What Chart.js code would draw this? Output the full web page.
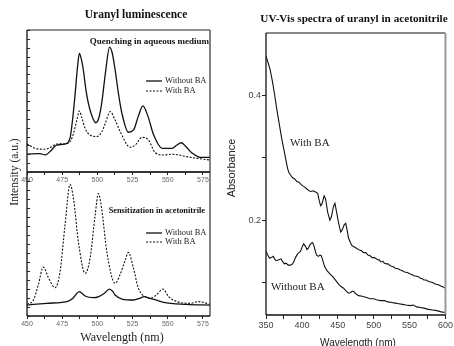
<!DOCTYPE html>
<html><head><meta charset="utf-8">
<script src="https://cdn.jsdelivr.net/npm/chart.js@4.4.1/dist/chart.umd.min.js"></script>
<style>
html,body{margin:0;padding:0;background:#fff;overflow:hidden;width:454px;height:346px;}
canvas{position:absolute;}
#cA{left:0;top:0;}
#cB{left:0;top:165px;}
#cC{left:217px;top:0;}
</style></head><body>
<canvas id="cA" width="227" height="215" style="width:227px;height:215px"></canvas>
<canvas id="cB" width="227" height="190" style="width:227px;height:190px"></canvas>
<canvas id="cC" width="237" height="356" style="width:237px;height:356px"></canvas>
<script>
// ---------- DATA ----------
const seriesNames = ['Without BA', 'With BA'];
// Luminescence, quenching in aqueous medium
const quenchNoBA_nm = [450,459,463,467,471,477,480.6,482.5,484,486,487.2,488.5,490,492,494.8,499,501,503,506,508.6,510.5,512.6,515,517.4,522,525.7,529,532.3,536,540,546,553,556.5,559.6,562.5,567,573,580];
const quenchNoBA_I  = [12.5,13,12,15,19,19.7,24,38,53,75,83.6,80,72,57,43.7,34.7,38,48,72,88,84,72,55,41.5,28,29.6,39,46.5,39,26,16.7,16.7,19,20.6,18.3,13.6,10.3,10.3];
const quenchBA_nm = [450,455.7,462.8,467.6,471.1,478.3,481,483,485.5,487.2,489,491.3,494.8,499.6,503,505.5,509.1,512.6,516.2,523.3,526.9,531.6,536.3,541.1,547,553,557.7,563.7,570.8,579.7];
const quenchBA_I  = [19.7,16.7,16,17.8,19.7,20,22,27,37,43,38,30.7,26,25,28,34,42.5,36.6,28.4,17.4,19,24.4,22.5,13.6,12,12.5,12,10.8,9.6,8.5];
// Luminescence, sensitization in acetonitrile
const sensNoBA_nm = [450,464,479.4,483,485.5,487.2,489,491.3,497,501,505,508.6,511,512.6,518,525.7,530,533.3,537,542,547,563,580];
const sensNoBA_I  = [7.6,8.8,10.4,12.7,15.8,16.9,15.8,13.9,12.7,13.5,15.8,18.7,17,14.6,11.6,11.1,12.3,13.4,12.3,11.1,9.5,8.1,7.6];
const sensBA_nm = [450,454.5,458,461.6,465,470,473.5,477,480.6,483,486.5,491.3,494.8,498.4,500.7,503,506.7,512.6,516,519.8,522,525.7,529,534,538.8,542.3,546.6,550.6,556.5,566,572,580];
const sensBA_I  = [8.1,11,21.5,34,27,19.7,30.8,63,91.4,81.7,51.6,29.6,40,70,85,74.8,44.7,22.7,28.5,38.9,44.2,33,19.7,13.4,12.7,15,18.7,13.4,10,8.8,10,8.1];
// UV-Vis absorbance
const uvBA_nm = [350,353,356,359,362,365,368.8,372,375.5,378,380,382,384.5,387,390,393,396,398,401,404,407,410,413,416,419,422,424,426,428,431,433,436,439,441,444,446,448,451,454,456,459,461,463,465,468,470,473,476,480,483,486,489,492,495,498,501,505,508,510,513,515,518,520,523,525,528,530,534,537,540,543,547,550,553,556,560,563,565,568,570,573,576,579,582,585,588,591,594,597,600];
const uvBA_A  = [0.463,0.452,0.440,0.422,0.401,0.378,0.352,0.330,0.310,0.295,0.283,0.276,0.272,0.268,0.266,0.262,0.261,0.258,0.255,0.253,0.250,0.247,0.246,0.247,0.245,0.243,0.232,0.223,0.226,0.239,0.234,0.212,0.200,0.205,0.222,0.227,0.215,0.196,0.181,0.184,0.193,0.195,0.184,0.171,0.163,0.159,0.157,0.155,0.152,0.151,0.148,0.148,0.144,0.143,0.140,0.140,0.137,0.136,0.133,0.134,0.131,0.130,0.130,0.127,0.126,0.125,0.123,0.122,0.120,0.119,0.117,0.116,0.114,0.113,0.111,0.110,0.109,0.107,0.106,0.104,0.104,0.102,0.101,0.100,0.098,0.097,0.096,0.094,0.093,0.091];
const uvNoBA_nm = [350,352,355,357,360,362,364,367,371,373,375.5,378,381,384.5,387,389,391,394,396,398,400,402.5,405,407,409,411,413,415,417,419,420.5,423,425,427,429,431.5,435,438,442.6,446,450,454,458,462,465,468,470,472,475,479,484,490,495,500,505,510,515,520,525,530,535,540,545,551,555,560,565,570,576,582,588,594,600];
const uvNoBA_A  = [0.150,0.145,0.139,0.140,0.142,0.138,0.135,0.136,0.138,0.134,0.130,0.131,0.128,0.128,0.130,0.134,0.140,0.146,0.148,0.150,0.156,0.162,0.158,0.153,0.155,0.160,0.163,0.164,0.158,0.149,0.144,0.142,0.144,0.143,0.136,0.126,0.119,0.115,0.110,0.105,0.099,0.094,0.091,0.086,0.083,0.084,0.086,0.086,0.082,0.079,0.078,0.076,0.074,0.074,0.072,0.071,0.071,0.069,0.068,0.067,0.066,0.065,0.064,0.063,0.064,0.061,0.060,0.059,0.057,0.056,0.055,0.053,0.052];
// Tick labels
const lumTicks = [450,475,500,525,550,575];
const lumMinorTicks = [462.5,487.5,512.5,537.5,562.5];
const uvTicks = [350,400,450,500,550,600];
const uvMinorTicks = [375,425,475,525,575];
const absTicks = [0.1,0.2,0.3,0.4];
const absTickLabels = ['', '0.2', '', '0.4'];

// ---------- HELPERS ----------
const zip = (xs, ys) => xs.map((x, i) => ({x: x, y: ys[i]}));
const SERIF = '"Liberation Serif", "DejaVu Serif", serif';
const SANS = '"Liberation Sans", Arial, sans-serif';

const decor = {
  id: 'decor',
  afterDraw(chart, args, opts) {
    const ctx = chart.ctx, a = chart.chartArea;
    ctx.save();
    if (opts.frame) {
      const f = opts.frame;
      const line = (x1, y1, x2, y2, s) => {
        if (!s) return;
        ctx.strokeStyle = s[0]; ctx.lineWidth = s[1];
        ctx.beginPath(); ctx.moveTo(x1, y1); ctx.lineTo(x2, y2); ctx.stroke();
      };
      line(a.left, a.top, a.right, a.top, f.top);
      line(a.right, a.top, a.right, a.bottom, f.right);
      line(a.left, a.bottom, a.right, a.bottom, f.bottom);
      line(a.left, a.top, a.left, a.bottom, f.left);
    }
    if (opts.innerYTicks) {
      const ys = chart.scales.y;
      ctx.strokeStyle = '#222'; ctx.lineWidth = 1;
      ys.ticks.forEach(t => {
        const py = Math.round(ys.getPixelForValue(t.value)) + 0.5;
        ctx.beginPath(); ctx.moveTo(a.left, py); ctx.lineTo(a.left + 3, py); ctx.stroke();
      });
    }
    if (opts.legend) {
      const L = opts.legend;
      chart.data.datasets.forEach((ds, i) => {
        const y = L.y + i * L.dy;
        ctx.setLineDash(ds.borderDash || []);
        ctx.lineWidth = ds.borderWidth; ctx.strokeStyle = ds.borderColor;
        ctx.beginPath(); ctx.moveTo(L.x, y); ctx.lineTo(L.x + L.len, y); ctx.stroke();
        ctx.setLineDash([]);
        ctx.fillStyle = '#222'; ctx.font = L.font; ctx.textAlign = 'left'; ctx.textBaseline = 'middle';
        ctx.fillText(ds.label, L.x + L.len + 3, y);
      });
    }
    (opts.texts || []).forEach(t => {
      ctx.save(); ctx.translate(t.x, t.y); if (t.rot) ctx.rotate(t.rot);
      ctx.font = t.font; ctx.fillStyle = t.color || '#111';
      ctx.textAlign = t.align || 'center'; ctx.textBaseline = 'middle';
      ctx.fillText(t.text, 0, 0); ctx.restore();
    });
    ctx.restore();
  }
};
Chart.register(decor);

function lumDatasets(noX, noY, baX, baY) {
  return [
    {label: seriesNames[0], data: zip(noX, noY), borderColor: '#111', borderWidth: 1.3, borderDash: [], pointRadius: 0, cubicInterpolationMode: 'monotone', fill: false},
    {label: seriesNames[1], data: zip(baX, baY), borderColor: '#111', borderWidth: 1.1, borderDash: [2, 1.5], pointRadius: 0, cubicInterpolationMode: 'monotone', fill: false}
  ];
}
function lumScales(xHeight, ymax) {
  return {
    x: {type: 'linear', min: 450, max: 580,
        afterBuildTicks: s => { s.ticks = lumTicks.concat(lumMinorTicks).sort((p, q) => p - q).map(v => ({value: v})); },
        afterFit: s => { s.height = xHeight; },
        grid: {display: true, drawOnChartArea: false, drawTicks: true, tickLength: 3, color: '#222', lineWidth: 1},
        border: {display: false},
        ticks: {color: '#666', padding: 1, maxRotation: 0, autoSkip: false, font: {family: SANS, size: 7},
                callback: v => lumTicks.includes(v) ? String(v) : ''}},
    y: {type: 'linear', min: 0, max: ymax, afterFit: s => { s.width = 27; },
        ticks: {display: false, stepSize: 6.25}, grid: {display: false}, border: {display: false}}
  };
}
const commonOpts = {responsive: false, animation: false, devicePixelRatio: 1,
  plugins: {legend: {display: false}, tooltip: {enabled: false}}};
const lumFrame = {top: ['#222', 1.2], right: ['#333', 1.2], bottom: ['#111', 1.3], left: ['#111', 1.3]};

// ---------- CHART A: quenching ----------
new Chart(document.getElementById('cA'), {
  type: 'line',
  data: {datasets: lumDatasets(quenchNoBA_nm, quenchNoBA_I, quenchBA_nm, quenchBA_I)},
  options: Object.assign({}, commonOpts, {
    layout: {padding: {left: 0, top: 30, right: 17, bottom: 0}},
    scales: lumScales(43, 100),
    plugins: Object.assign({}, commonOpts.plugins, {decor: {
      frame: lumFrame, innerYTicks: true,
      legend: {x: 146, y: 81, dy: 10, len: 16, font: '8.5px ' + SERIF},
      texts: [
        {text: 'Uranyl luminescence', x: 136, y: 15, font: 'bold 11.5px ' + SERIF},
        {text: 'Quenching in aqueous medium', x: 209, y: 42, align: 'right', font: 'bold 9px ' + SERIF},
        {text: 'Intensity (a.u.)', x: 15, y: 172, rot: -Math.PI / 2, font: '11.5px ' + SERIF, color: '#222'}
      ]}})
  })
});

// ---------- CHART B: sensitization ----------
new Chart(document.getElementById('cB'), {
  type: 'line',
  data: {datasets: lumDatasets(sensNoBA_nm, sensNoBA_I, sensBA_nm, sensBA_I)},
  options: Object.assign({}, commonOpts, {
    layout: {padding: {left: 0, top: 7, right: 17, bottom: 0}},
    scales: lumScales(39, 100),
    plugins: Object.assign({}, commonOpts.plugins, {decor: {
      frame: lumFrame, innerYTicks: true,
      legend: {x: 146, y: 68, dy: 9, len: 16, font: '8.5px ' + SERIF},
      texts: [
        {text: 'Sensitization in acetonitrile', x: 205, y: 46, align: 'right', font: 'bold 8.3px ' + SERIF},
        {text: 'Wavelength (nm)', x: 122, y: 173, font: '12px ' + SERIF, color: '#222'}
      ]}})
  })
});

// ---------- CHART C: UV-Vis ----------
new Chart(document.getElementById('cC'), {
  type: 'line',
  data: {datasets: [
    {label: 'With BA', data: zip(uvBA_nm, uvBA_A), borderColor: '#111', borderWidth: 1.1, pointRadius: 0, tension: 0, fill: false},
    {label: 'Without BA', data: zip(uvNoBA_nm, uvNoBA_A), borderColor: '#111', borderWidth: 1.1, pointRadius: 0, tension: 0, fill: false}
  ]},
  options: Object.assign({}, commonOpts, {
    layout: {padding: {left: 0, top: 33, right: 2, bottom: 0}},
    scales: {
      x: {type: 'linear', min: 350, max: 600,
          afterBuildTicks: s => { s.ticks = uvTicks.concat(uvMinorTicks).sort((p, q) => p - q).map(v => ({value: v})); },
          afterFit: s => { s.height = 41; },
          grid: {display: true, drawOnChartArea: false, drawTicks: true, tickLength: 4, color: '#222'},
          border: {display: false},
          ticks: {color: '#444', padding: 1, maxRotation: 0, autoSkip: false, font: {family: SANS, size: 9},
                  callback: v => uvTicks.includes(v) ? String(v) : ''}},
      y: {type: 'linear', min: 0.048, max: 0.5,
          afterBuildTicks: s => { s.ticks = absTicks.map(v => ({value: v})); },
          afterFit: s => { s.width = 49; },
          grid: {display: true, drawOnChartArea: false, drawTicks: true, tickLength: 4, color: '#222'},
          border: {display: false},
          ticks: {color: '#444', padding: 1, font: {family: SANS, size: 9},
                  callback: (v, i) => absTickLabels[absTicks.indexOf(v)] || ''}}
    },
    plugins: Object.assign({}, commonOpts.plugins, {decor: {
      frame: {top: ['#111', 1], right: ['#999', 2], bottom: ['#111', 1.3], left: ['#111', 1.3]},
      texts: [
        {text: 'UV-Vis spectra of uranyl in acetonitrile', x: 137, y: 19, font: 'bold 11.2px ' + SERIF},
        {text: 'With BA', x: 73, y: 143, align: 'left', font: '11px ' + SERIF, color: '#222'},
        {text: 'Without BA', x: 54, y: 287, align: 'left', font: '11px ' + SERIF, color: '#222'},
        {text: 'Absorbance', x: 15, y: 168, rot: -Math.PI / 2, font: '11px ' + SANS, color: '#222'},
        {text: 'Wavelength (nm)', x: 141, y: 343, font: '10px ' + SANS, color: '#222'}
      ]}})
  })
});
</script>
</body></html>
